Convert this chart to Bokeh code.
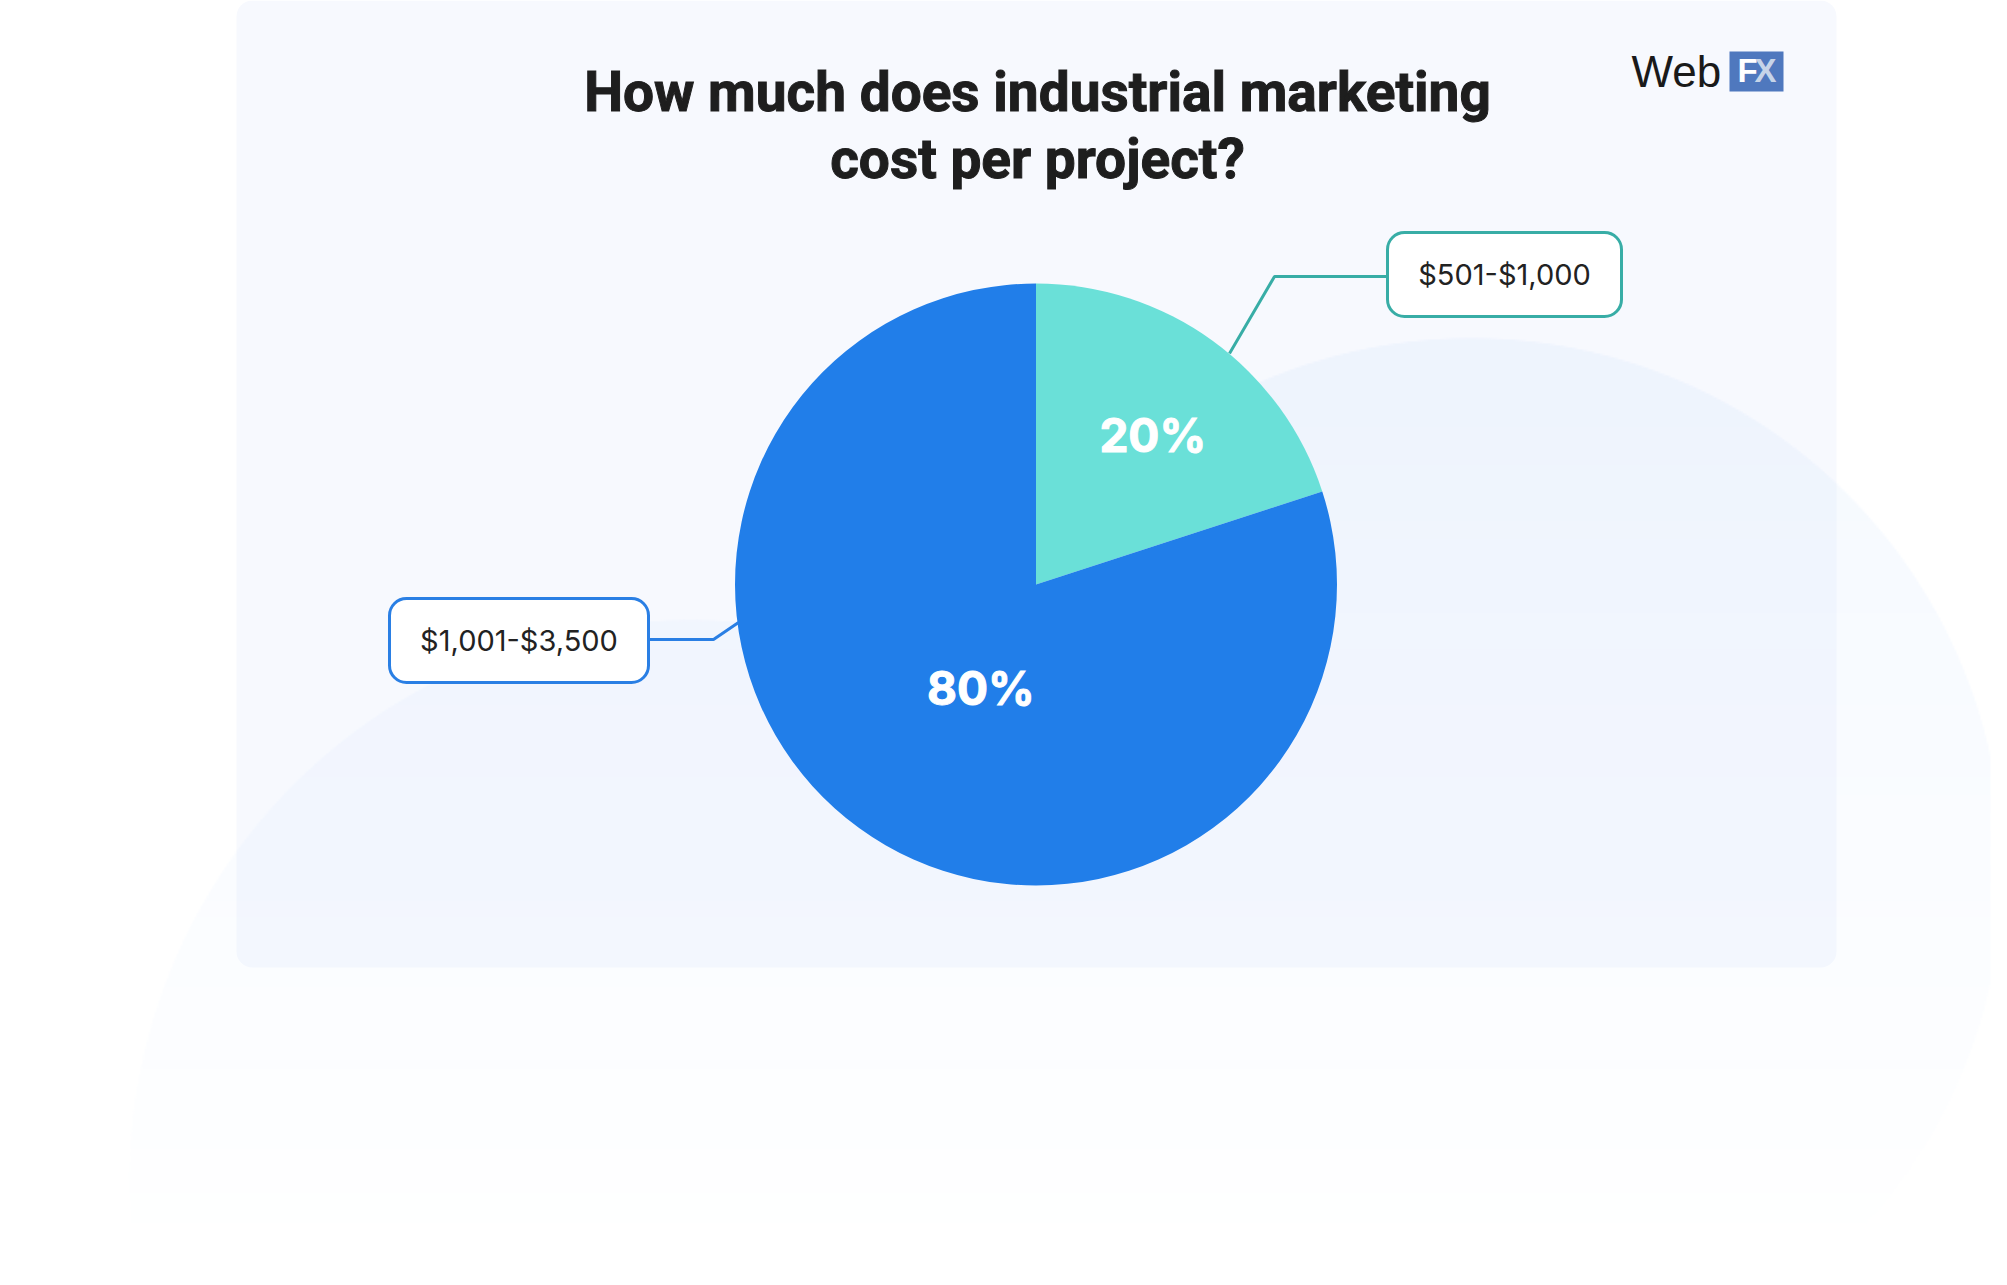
import numpy as np
from bokeh.plotting import figure
from bokeh.models import Range1d, BoxAnnotation, Label
from bokeh.core.properties import value
from bokeh.embed import file_html
from bokeh.resources import INLINE

# ---------------- data ----------------
categories = ["$501-$1,000", "$1,001-$3,500"]
shares = [20, 80]
pct_labels = ["20%", "80%"]
slice_colors = ["#6AE0D8", "#217EE9"]
title_lines = ["How much does industrial marketing", "cost per project?"]

# ---------------- layout (page pixels of the 2007x1285 picture) ----------------
W, H, FULL_H = 1991, 1269, 1285


def Y(ypage):
    return FULL_H - ypage


p = figure(width=W, height=H,
           x_range=Range1d(0, W), y_range=Range1d(FULL_H - H, FULL_H),
           output_backend="svg", toolbar_location=None, min_border=0)
p.axis.visible = False
p.grid.visible = False
p.outline_line_color = None
p.background_fill_color = "white"
p.border_fill_color = "white"

# background panel
p.add_layout(BoxAnnotation(left=236, right=1836, top=Y(0), bottom=Y(967),
                           fill_color="#F7F9FE", fill_alpha=1.0, line_color=None,
                           border_radius=16, level="underlay"))

# faint decorative blob (two overlapping discs, fading downwards)
step = 2
nx, ny = W // step, H // step
xs = (np.arange(nx) + 0.5) * step
ys_data = (FULL_H - H) + (np.arange(ny) + 0.5) * step
XX, YD = np.meshgrid(xs, ys_data)
YP = FULL_H - YD
d1 = np.hypot(XX - 690, YP - 1181)
d2 = np.hypot(XX - 1471, YP - 869)
inside = np.maximum(np.clip((562 - d1) / 1.5, 0, 1), np.clip((532 - d2) / 1.5, 0, 1))
fade = np.clip((1260 - YP) / (1260 - 340), 0, 1) ** 0.9
alpha = (0.21 * inside * fade * 255).astype(np.uint8)
img = np.zeros((ny, nx), dtype=np.uint32)
view = img.view(dtype=np.uint8).reshape((ny, nx, 4))
view[:, :, 0] = 205
view[:, :, 1] = 225
view[:, :, 2] = 252
view[:, :, 3] = alpha
p.image_rgba(image=[img], x=0, y=FULL_H - H, dw=nx * step, dh=ny * step)

# ---------------- pie ----------------
CX, CY, R = 1035.5, Y(584), 301
frac = np.cumsum([0] + shares) / float(sum(shares))
starts = np.pi / 2 - 2 * np.pi * frac[:-1]
ends = np.pi / 2 - 2 * np.pi * frac[1:]
p.wedge(x=CX, y=CY, radius=R, start_angle=starts, end_angle=ends, direction="clock",
        fill_color=slice_colors, line_color=None)

# percentage labels inside slices (polar placement from each slice's middle angle)
mids = (starts + ends) / 2
lab_r = np.array([0.63, 0.39]) * R
lab_shift = np.radians([-2, 8])
lx = CX + lab_r * np.cos(mids + lab_shift)
ly = CY + lab_r * np.sin(mids + lab_shift)
p.text(x=lx, y=ly, text=pct_labels, text_color="white", text_font=value("Inter"),
       text_font_style="bold", text_font_size="46px", text_align="center",
       text_baseline="middle", text_outline_color="white")

# ---------------- call-outs ----------------
leader_colors = ["#38ADA6", "#2A7FE4"]
leaders_x = [[1229, 1274, 1388], [738, 713, 648]]
leaders_y = [[Y(353), Y(276), Y(276)], [Y(622), Y(639), Y(639)]]
for lxs, lys, c in zip(leaders_x, leaders_y, leader_colors):
    p.line(lxs, lys, line_color=c, line_width=3)

boxes = [(1387, 1621, 232, 316), (389, 648, 598, 682)]
for (l, r, t, b), c, txt in zip(boxes, leader_colors, categories):
    p.add_layout(BoxAnnotation(left=l, right=r, top=Y(t), bottom=Y(b), fill_color="white",
                               fill_alpha=1.0, line_color=c, line_alpha=1.0, line_width=3,
                               border_radius=17))
    p.add_layout(Label(x=(l + r) / 2, y=Y((t + b) / 2), text=txt, text_align="center",
                       text_baseline="middle", text_font="Inter", text_font_size="29px",
                       text_color="#222222"))

# ---------------- title ----------------
p.text(x=[1037, 1037], y=[Y(91), Y(158)], text=title_lines, text_color="#1E1E1E",
       text_font=value("Roboto"), text_font_style="bold", text_font_size="55px",
       text_align="center", text_baseline="middle", text_outline_color="#1E1E1E")

# ---------------- logo ----------------
p.text(x=[1631], y=[Y(71)], text=["Web"], text_color="#1A1A1A",
       text_font=value("Liberation Sans"), text_font_size="44px",
       text_align="left", text_baseline="middle")
p.quad(left=[1729], right=[1783], top=[Y(51)], bottom=[Y(91)], fill_color="#4F78BE",
       line_color=None)
p.text(x=[1737], y=[Y(70)], text=["F"], text_color="white",
       text_font=value("Liberation Sans"), text_font_style="bold", text_font_size="33px",
       text_align="left", text_baseline="middle")
p.text(x=[1754], y=[Y(70)], text=["X"], text_color="#C6D4E8",
       text_font=value("Liberation Sans"), text_font_style="bold", text_font_size="33px",
       text_align="left", text_baseline="middle")

open("out.html", "w").write(file_html(p, INLINE))
